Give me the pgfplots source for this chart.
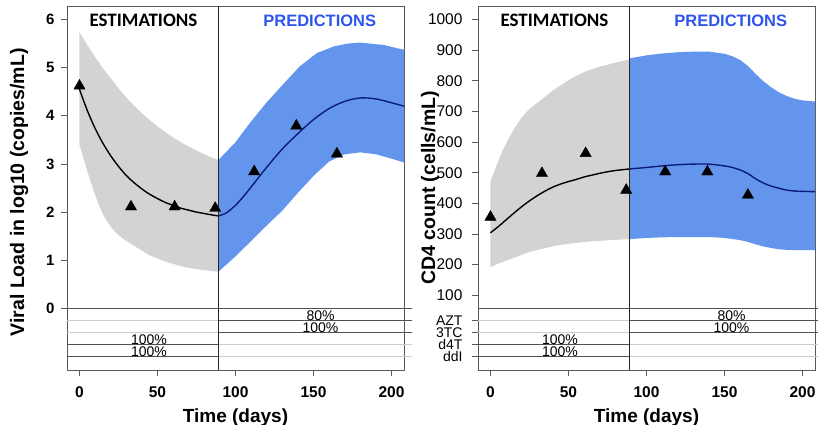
\documentclass[border=0pt]{standalone}
\usepackage{fontspec}
\setmainfont{Liberation Sans}
\newfontfamily\carlito{Carlito}
\usepackage{pgfplots}
\pgfplotsset{compat=1.18}

\definecolor{bandgray}{RGB}{211,211,211}
\definecolor{bandblue}{RGB}{100,149,237}
\definecolor{navyline}{RGB}{12,28,120}
\definecolor{predblue}{RGB}{45,85,235}
\definecolor{darkln}{RGB}{80,80,80}
\definecolor{lightln}{RGB}{205,205,205}

\pgfplotsset{
  rstyle/.style={
    scale only axis, width=337bp, height=364bp, anchor=south west,
    xmin=-8, xmax=208,
    xtick={0,50,100,150,200},
    tick align=outside, major tick length=6bp,
    xtick pos=left, ytick pos=left,
    axis line style={black!65, line width=0.8bp},
    tick style={black!65, line width=0.8bp},
    /pgf/number format/assume math mode=true,
    xticklabel style={font=\fontsize{15.5bp}{18bp}\selectfont\bfseries, yshift=-7bp},
    clip=false,
    xlabel={Time (days)},
    xlabel style={font=\fontsize{19bp}{22bp}\selectfont\bfseries, at={(axis description cs:0.5,0)}, anchor=base, yshift=-52bp},
    ylabel style={font=\fontsize{19.5bp}{22bp}\selectfont\bfseries, anchor=base},
  },
}
\tikzset{
  bottomtext/.style={anchor=base, font=\fontsize{14bp}{16bp}\selectfont, inner sep=0pt},
  esttitle/.style={anchor=base, font=\fontsize{19bp}{21bp}\carlito\bfseries, inner sep=0pt},
  predtitle/.style={anchor=base, font=\fontsize{16.5bp}{20bp}\selectfont\bfseries, text=predblue, inner sep=0pt},
}
\newcommand{\drug}[1]{{\fontsize{14bp}{14bp}\selectfont #1}}

\begin{document}
\begin{tikzpicture}
\path[use as bounding box] (0,0) rectangle (818bp,425bp);

% ---------------- Left panel: viral load ----------------
\begin{axis}[rstyle, at={(67bp,55bp)},
  ymin=-1.28, ymax=6.28, ytick={0,1,2,3,4,5,6},
  yticklabel style={font=\fontsize{15bp}{18bp}\selectfont\bfseries, xshift=-3bp},
  ylabel={Viral Load in log10 (copies/mL)},
  ylabel style={at={(axis description cs:-0.1276,0.488)}},
]
\addplot[draw=none, fill=bandgray] coordinates {
 (0,5.73) (5,5.47) (10,5.22) (15,4.99) (20,4.78) (25,4.57) (30,4.38) (35,4.21) (40,4.05)
 (45,3.91) (50,3.78) (55,3.66) (60,3.55) (65,3.45) (70,3.36) (75,3.28) (80,3.2) (85,3.13) (89,3.08)
 (89,0.76) (78,0.80) (67,0.86) (56,0.96) (45,1.10) (35,1.30) (30,1.40) (24,1.55) (21,1.66) (18,1.79)
 (15,1.96) (12,2.18) (9,2.45) (6,2.75) (3,3.07) (0,3.4)};
\addplot[draw=none, fill=bandblue] coordinates {
 (89,3.08) (100,3.45) (109,3.84) (120,4.28) (131,4.67) (141,5.02) (152,5.30) (163,5.44) (172,5.50)
 (180,5.52) (195,5.47) (208,5.37)
 (208,3.03) (200,3.11) (190,3.2) (180,3.24) (170,3.2) (160,3.05) (150,2.75) (140,2.4) (130,2.03)
 (120,1.72) (110,1.4) (100,1.08) (89,0.76)};
\addplot[black, line width=1.4bp, smooth] coordinates {
 (0,4.55) (5,4.11) (10,3.74) (15,3.43) (20,3.17) (25,2.95) (30,2.76) (35,2.61) (40,2.48) (45,2.37)
 (50,2.28) (55,2.20) (60,2.14) (65,2.08) (70,2.04) (75,2.00) (80,1.97) (85,1.94) (89,1.92)};
\addplot[navyline, line width=1.4bp, smooth] coordinates {
 (89,1.92) (94,1.98) (100,2.14) (105,2.32) (110,2.52) (120,2.93) (130,3.31) (140,3.63) (150,3.92)
 (160,4.15) (170,4.3) (180,4.37) (190,4.35) (200,4.27) (208,4.2)};
% treatment bars
\addplot[darkln, line width=1.2bp] coordinates {(-8,0) (213,0)};
\addplot[lightln, line width=1.2bp] coordinates {(-8,-0.25) (89,-0.25)};
\addplot[darkln, line width=1.2bp] coordinates {(89,-0.25) (213,-0.25)};
\addplot[lightln, line width=1.2bp] coordinates {(-8,-0.5) (89,-0.5)};
\addplot[darkln, line width=1.2bp] coordinates {(89,-0.5) (213,-0.5)};
\addplot[darkln, line width=1.2bp] coordinates {(-8,-0.75) (89,-0.75)};
\addplot[lightln, line width=1.2bp] coordinates {(89,-0.75) (213,-0.75)};
\addplot[darkln, line width=1.2bp] coordinates {(-8,-1) (89,-1)};
\addplot[lightln, line width=1.2bp] coordinates {(89,-1) (213,-1)};
\addplot[black!85, line width=0.8bp] coordinates {(89,-1.28) (89,6.28)};
\addplot[only marks, mark=triangle*, mark size=6.5bp, black] coordinates {
 (0,4.62) (33,2.11) (61,2.11) (87,2.08) (112,2.84) (139,3.79) (165,3.21)};
\node[bottomtext] at (axis cs:44.5,-0.75) {100\%};
\node[bottomtext] at (axis cs:44.5,-1) {100\%};
\node[bottomtext] at (axis cs:154.5,-0.25) {80\%};
\node[bottomtext] at (axis cs:154.5,-0.5) {100\%};
\node[esttitle] at (axis cs:41,5.855) {ESTIMATIONS};
\node[predtitle] at (axis cs:154,5.855) {PREDICTIONS};
\end{axis}

% ---------------- Right panel: CD4 ----------------
\begin{axis}[rstyle, at={(478bp,55bp)},
  ymin=-144, ymax=1044,
  ytick={-100,-61,-22,17,100,200,300,400,500,600,700,800,900,1000},
  yticklabels={\drug{ddI},\drug{d4T},\drug{3TC},\drug{AZT},100,200,300,400,500,600,700,800,900,1000},
  yticklabel style={font=\fontsize{15.5bp}{18bp}\selectfont, xshift=-6bp},
  ylabel={CD4 count (cells/mL)},
  ylabel style={at={(axis description cs:-0.1276,0.5)}},
]
\addplot[draw=none, fill=bandgray] coordinates {
 (0,471) (4,525) (8,575) (12,615) (16,650) (20,680) (25,708) (30,728) (35,748) (40,768) (45,785)
 (50,802) (55,816) (60,828) (65,838) (70,846) (75,852) (80,859) (85,865) (89,869)
 (89,283) (77,280) (65,276) (55,271) (43,263) (30,248) (22,236) (15,222) (10,213) (5,203) (0,192)};
\addplot[draw=none, fill=bandblue] coordinates {
 (89,873) (100,883) (110,889) (120,893) (130,895) (140,895) (150,888) (155,880) (160,868) (165,848)
 (170,822) (175,798) (180,778) (185,762) (190,750) (195,741) (200,736) (208,732)
 (208,247) (200,247) (190,248) (185,250) (180,254) (175,259) (170,266) (165,274) (160,280) (150,287)
 (140,290) (130,290) (120,290) (110,289) (100,287) (89,283)};
\addplot[black, line width=1.4bp, smooth] coordinates {
 (0,304) (5,324) (10,346) (15,368) (20,389) (25,408) (30,425) (35,440) (40,453) (45,463) (50,471)
 (55,478) (60,486) (65,492) (70,498) (75,503) (80,507) (85,510) (89,512)};
\addplot[navyline, line width=1.4bp, smooth] coordinates {
 (89,512) (100,517) (110,522) (120,526) (130,528) (140,528) (150,522) (155,517) (160,509) (165,497)
 (170,480) (175,466) (180,456) (185,449) (190,443) (195,440) (200,439) (208,438)};
\addplot[darkln, line width=1.2bp] coordinates {(-8,57) (213,57)};
\addplot[lightln, line width=1.2bp] coordinates {(-8,17) (89,17)};
\addplot[darkln, line width=1.2bp] coordinates {(89,17) (213,17)};
\addplot[lightln, line width=1.2bp] coordinates {(-8,-22) (89,-22)};
\addplot[darkln, line width=1.2bp] coordinates {(89,-22) (213,-22)};
\addplot[darkln, line width=1.2bp] coordinates {(-8,-61) (89,-61)};
\addplot[lightln, line width=1.2bp] coordinates {(89,-61) (213,-61)};
\addplot[darkln, line width=1.2bp] coordinates {(-8,-100) (89,-100)};
\addplot[lightln, line width=1.2bp] coordinates {(89,-100) (213,-100)};
\addplot[black!85, line width=0.8bp] coordinates {(89,-144) (89,1044)};
\addplot[only marks, mark=triangle*, mark size=6.5bp, black] coordinates {
 (0,355) (33,498) (61,563) (87,443) (112,503) (139,503) (165,427)};
\node[bottomtext] at (axis cs:44.5,-61) {100\%};
\node[bottomtext] at (axis cs:44.5,-100) {100\%};
\node[bottomtext] at (axis cs:154.5,17) {80\%};
\node[bottomtext] at (axis cs:154.5,-22) {100\%};
\node[esttitle] at (axis cs:41,977) {ESTIMATIONS};
\node[predtitle] at (axis cs:154,977) {PREDICTIONS};
\end{axis}
\end{tikzpicture}
\end{document}
